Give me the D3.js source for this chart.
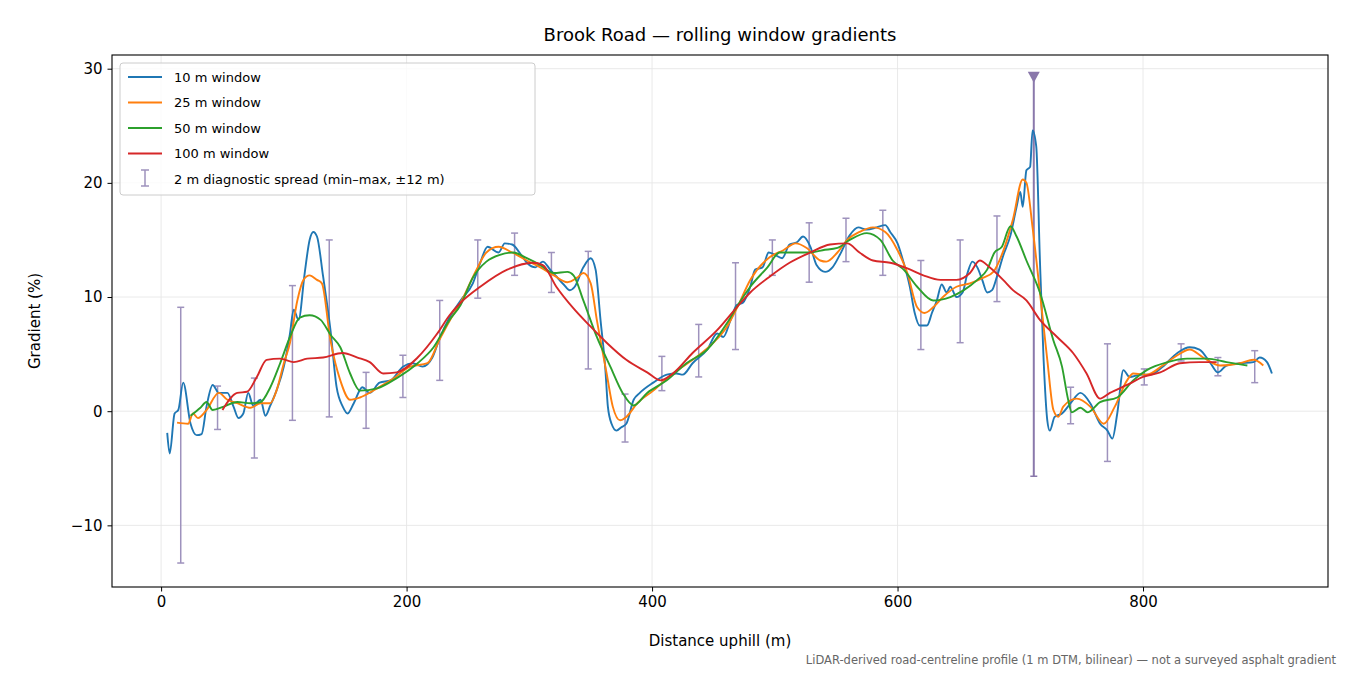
<!DOCTYPE html>
<html><head><meta charset="utf-8">
<script src="https://cdn.jsdelivr.net/npm/d3@7"></script>
<style>body{margin:0;background:#fff;font-family:"DejaVu Sans",sans-serif}</style>
</head><body><svg id="c" width="1350" height="675"></svg>
<script>
const xTicks=[0,200,400,600,800];
const yTicks=[-10,0,10,20,30];
const w10=[[5,-1.9],[7,-3.7],[11,-0.2],[14,0.1],[18,2.5],[24,-1.1],[29,-2.1],[33,-2.0],[37,0.4],[42,2.3],[47,1.6],[54,1.6],[59,0.4],[63,-0.6],[67,-0.2],[71,1.6],[75,0.5],[81,1.0],[85,-0.4],[89,0.5],[94,1.8],[100,3.9],[105,6.8],[108,8.9],[112,8.0],[117,12.1],[121,15.0],[124,15.7],[127,15.3],[132,11.8],[138,7.1],[143,2.1],[148,0.4],[152,-0.2],[157,0.7],[164,2.1],[170,1.6],[178,2.5],[187,2.7],[197,3.9],[205,4.2],[213,3.9],[221,4.7],[227,6.4],[235,8.2],[244,9.7],[254,11.2],[260,13.0],[266,14.4],[275,13.9],[280,14.7],[286,14.6],[292,13.9],[298,13.0],[305,12.6],[311,13.1],[317,12.4],[322,11.8],[328,11.1],[333,10.6],[337,10.9],[344,12.6],[350,13.4],[354,12.4],[358,8.0],[362,3.6],[364,0.4],[367,-1.1],[371,-1.7],[375,-1.4],[379,-1.1],[385,1.0],[390,1.6],[401,2.5],[412,3.2],[420,3.3],[425,3.2],[433,4.2],[445,5.4],[453,6.8],[458,6.5],[464,8.0],[469,9.3],[474,9.5],[480,10.9],[484,12.4],[490,12.6],[495,13.9],[500,13.7],[506,13.4],[512,14.6],[518,14.8],[523,15.3],[529,14.4],[534,12.8],[541,12.2],[547,12.6],[553,13.7],[561,15.4],[568,16.1],[575,15.9],[583,16.1],[590,16.3],[594,15.7],[600,14.7],[605,13.0],[610,10.9],[614,8.6],[618,7.5],[624,7.5],[628,8.6],[632,9.7],[636,11.1],[640,10.4],[643,10.9],[648,10.0],[653,10.4],[657,12.1],[661,13.1],[665,12.6],[669,11.5],[673,10.4],[677,10.6],[681,11.8],[686,13.6],[692,15.4],[697,17.9],[700,19.2],[702,17.9],[705,21.1],[708,21.4],[710,24.6],[713,23.2],[716,13.2],[719,4.5],[722,-0.8],[724,-1.7],[728,-0.5],[734,-0.2],[741,0.7],[749,1.6],[757,0.7],[765,-1.1],[771,-1.7],[775,-2.4],[779,-0.2],[784,3.6],[789,3.0],[798,3.2],[806,3.2],[816,3.9],[828,5.1],[838,5.6],[846,5.4],[855,4.2],[861,3.4],[868,4.0],[879,4.2],[890,4.3],[895,4.7],[901,4.3],[905,3.3]];
const w25=[[13,-1.0],[22,-1.1],[26,-0.2],[30,-0.6],[37,0.1],[47,1.6],[54,1.0],[62,0.7],[73,0.3],[81,0.7],[89,0.7],[94,1.8],[100,4.2],[105,6.0],[111,9.7],[116,11.5],[121,11.9],[127,11.5],[131,11.2],[138,6.2],[146,2.7],[154,1.0],[162,1.2],[176,2.0],[187,2.7],[203,3.9],[217,4.2],[227,6.3],[235,7.9],[244,9.5],[257,12.4],[265,13.9],[275,14.4],[286,13.9],[298,13.2],[309,12.6],[320,11.9],[331,11.3],[339,11.7],[344,12.1],[350,11.2],[355,8.0],[363,3.3],[368,0.4],[374,-0.8],[379,-0.5],[388,0.7],[401,1.8],[417,3.3],[433,4.5],[450,6.0],[461,7.4],[469,9.0],[480,11.5],[496,13.5],[507,14.1],[517,14.7],[526,14.3],[537,13.2],[542,13.1],[551,13.9],[559,15.0],[569,15.7],[580,16.1],[590,15.7],[600,14.1],[608,12.1],[616,9.1],[622,8.6],[629,9.1],[637,10.0],[648,10.9],[659,11.2],[670,11.7],[678,12.2],[686,14.0],[694,16.8],[702,20.3],[705,20.0],[710,16.1],[716,10.4],[722,4.5],[727,0.1],[731,-0.5],[735,0.4],[746,1.1],[757,0.4],[768,-1.1],[777,0.4],[787,2.7],[792,3.3],[803,3.2],[816,4.0],[828,4.9],[838,5.4],[849,4.7],[863,4.0],[879,4.2],[890,4.5],[898,4.0]];
const w50=[[24,-0.4],[32,0.3],[37,0.8],[42,0.1],[51,0.4],[62,0.8],[73,0.7],[81,0.8],[89,2.1],[97,4.2],[105,6.5],[113,8.2],[121,8.4],[130,8.0],[138,6.7],[146,5.6],[154,3.3],[162,1.8],[176,2.0],[192,2.9],[209,4.2],[222,5.6],[235,8.0],[244,9.3],[254,11.7],[265,13.1],[276,13.7],[287,13.9],[298,13.4],[309,12.8],[320,12.1],[331,12.2],[336,11.9],[344,9.7],[355,6.5],[366,3.9],[376,1.6],[385,0.5],[396,1.6],[412,2.7],[428,4.2],[445,5.4],[461,7.7],[470,9.3],[480,10.9],[494,12.6],[504,13.9],[518,13.9],[529,13.9],[539,14.1],[551,14.3],[561,15.0],[575,15.6],[586,15.0],[596,13.2],[605,12.4],[616,10.9],[629,9.7],[643,10.0],[654,10.6],[665,11.5],[673,12.4],[679,13.9],[685,14.4],[692,16.2],[697,15.3],[705,13.2],[716,10.4],[727,6.2],[734,3.9],[739,1.0],[742,-0.1],[749,0.3],[755,-0.1],[765,0.8],[779,1.2],[792,2.7],[803,3.6],[820,4.3],[836,4.6],[852,4.6],[868,4.3],[885,4.0]];
const w100=[[50,0.1],[62,1.6],[70,1.7],[78,3.0],[86,4.5],[97,4.6],[108,4.3],[119,4.6],[132,4.7],[148,5.1],[160,4.7],[170,4.3],[181,3.3],[192,3.4],[209,4.7],[225,6.8],[235,8.4],[244,9.5],[260,10.9],[282,12.4],[303,13.0],[311,12.8],[322,10.9],[336,9.0],[350,7.4],[363,6.0],[379,4.5],[396,3.4],[407,2.7],[417,3.3],[433,5.1],[453,7.1],[469,9.1],[480,10.4],[496,11.8],[512,13.0],[529,13.9],[545,14.6],[559,14.7],[569,13.9],[580,13.2],[594,13.0],[608,12.5],[621,11.9],[635,11.5],[648,11.5],[659,12.1],[667,13.2],[675,12.6],[686,11.5],[694,10.6],[705,9.7],[716,8.0],[730,6.5],[743,5.1],[754,3.3],[765,1.1],[773,1.6],[787,2.3],[800,3.0],[814,3.4],[830,4.2],[846,4.3],[860,4.3]];
const spreadX=[16,46,76,107,137,167,197,227,258,288,318,348,378,408,438,468,498,528,558,588,619,651,681,711,741,771,801,831,861,891];
const spreadLo=[-13.3,-1.6,-4.1,-0.8,-0.5,-1.5,1.2,2.7,9.9,11.9,10.4,3.7,-2.7,1.8,3.0,5.4,11.9,11.3,13.1,11.9,5.4,6.0,9.6,-5.7,-1.1,-4.4,2.3,4.4,3.1,2.5];
const spreadHi=[9.1,2.2,2.9,11.0,15.0,3.4,4.9,9.7,15.0,15.6,13.9,14.0,1.5,4.8,7.6,13.0,15.0,16.5,16.9,17.6,13.2,15.0,17.1,29.2,2.1,5.9,3.7,5.9,4.7,5.3];
const clippedIdx=[23];
const seriesNames=["10 m window","25 m window","50 m window","100 m window"];
const colors=["#1f77b4","#ff7f0e","#2ca02c","#d62728"];
const series=[w10,w25,w50,w100];

const svg=d3.select("#c");
const L=112,R=1328,T=55,B=587;
const x=d3.scaleLinear().domain([-40,950.7]).range([L,R]);
const y=d3.scaleLinear().domain([-15.4,31.2]).range([B,T]);
const g=svg.append("g");
g.selectAll(".gx").data(xTicks).join("line").attr("x1",d=>x(d)).attr("x2",d=>x(d)).attr("y1",T).attr("y2",B).attr("stroke","#e6e6e6").attr("stroke-width",0.9);
g.selectAll(".gy").data(yTicks).join("line").attr("y1",d=>y(d)).attr("y2",d=>y(d)).attr("x1",L).attr("x2",R).attr("stroke","#e6e6e6").attr("stroke-width",0.9);
const ec="#9e92bd";
const eb=g.append("g");
spreadX.forEach((sx,i)=>{
  const c=clippedIdx.includes(i);
  const col=c?"#8a78ab":ec;
  eb.append("line").attr("x1",x(sx)).attr("x2",x(sx)).attr("y1",y(spreadLo[i])).attr("y2",y(spreadHi[i])).attr("stroke",col).attr("stroke-width",c?2:1.5);
  eb.append("line").attr("x1",x(sx)-3.5).attr("x2",x(sx)+3.5).attr("y1",y(spreadLo[i])).attr("y2",y(spreadLo[i])).attr("stroke",col).attr("stroke-width",1.5);
  if(!c) eb.append("line").attr("x1",x(sx)-3.5).attr("x2",x(sx)+3.5).attr("y1",y(spreadHi[i])).attr("y2",y(spreadHi[i])).attr("stroke",col).attr("stroke-width",1.5);
  else eb.append("path").attr("d",`M${x(sx)-6},${y(spreadHi[i])-6}L${x(sx)+6},${y(spreadHi[i])-6}L${x(sx)},${y(spreadHi[i])+5}Z`).attr("fill","#8a78ab");
});
const line=d3.line().x(d=>x(d[0])).y(d=>y(d[1])).curve(d3.curveMonotoneX);
series.forEach((s,i)=>g.append("path").attr("d",line(s)).attr("fill","none").attr("stroke",colors[i]).attr("stroke-width",1.9));
const xa=svg.append("g").attr("transform",`translate(0,${B})`).call(d3.axisBottom(x).tickValues(xTicks).tickSize(4.5).tickPadding(5));
const ya=svg.append("g").attr("transform",`translate(${L},0)`).call(d3.axisLeft(y).tickValues(yTicks).tickSize(4.5).tickPadding(5).tickFormat(d=>d<0?"\u2212"+Math.abs(d):d));
[xa,ya].forEach(a=>{a.attr("font-size",null).attr("font-family",null);a.selectAll("text").style("font-size","15px").style("font-family","DejaVu Sans").attr("fill","#000");a.select(".domain").remove();a.selectAll("line").attr("stroke","#000");});
svg.append("rect").attr("x",L).attr("y",T).attr("width",R-L).attr("height",B-T).attr("fill","none").attr("stroke","#000").attr("stroke-width",1.1);
svg.append("text").attr("x",(L+R)/2).attr("y",41).attr("text-anchor","middle").attr("font-size",18).text("Brook Road \u2014 rolling window gradients");
svg.append("text").attr("x",(L+R)/2).attr("y",646).attr("text-anchor","middle").attr("font-size",15).text("Distance uphill (m)");
svg.append("text").attr("transform",`translate(40,${(T+B)/2}) rotate(-90)`).attr("text-anchor","middle").attr("font-size",15).text("Gradient (%)");
svg.append("text").attr("x",1336).attr("y",664).attr("text-anchor","end").attr("font-size",11.5).attr("fill","#666").text("LiDAR-derived road-centreline profile (1 m DTM, bilinear) \u2014 not a surveyed asphalt gradient");
const lg=svg.append("g");
lg.append("rect").attr("x",120).attr("y",63).attr("width",415).attr("height",132).attr("rx",3).attr("fill","#fff").attr("fill-opacity",0.8).attr("stroke","#ccc");
seriesNames.forEach((n,i)=>{const yy=77+i*25.5;
  lg.append("line").attr("x1",128).attr("x2",162).attr("y1",yy).attr("y2",yy).attr("stroke",colors[i]).attr("stroke-width",2);
  lg.append("text").attr("x",174).attr("y",yy+4.5).attr("font-size",13).text(n);});
const ly=179;
lg.append("line").attr("x1",145).attr("x2",145).attr("y1",ly-9).attr("y2",ly+7).attr("stroke",ec).attr("stroke-width",1.5);
[ly-9,ly+7].forEach(v=>lg.append("line").attr("x1",141).attr("x2",149).attr("y1",v).attr("y2",v).attr("stroke",ec).attr("stroke-width",1.5));
lg.append("text").attr("x",174).attr("y",ly+4.5).attr("font-size",13).text("2 m diagnostic spread (min\u2013max, \u00b112 m)");
</script></body></html>
